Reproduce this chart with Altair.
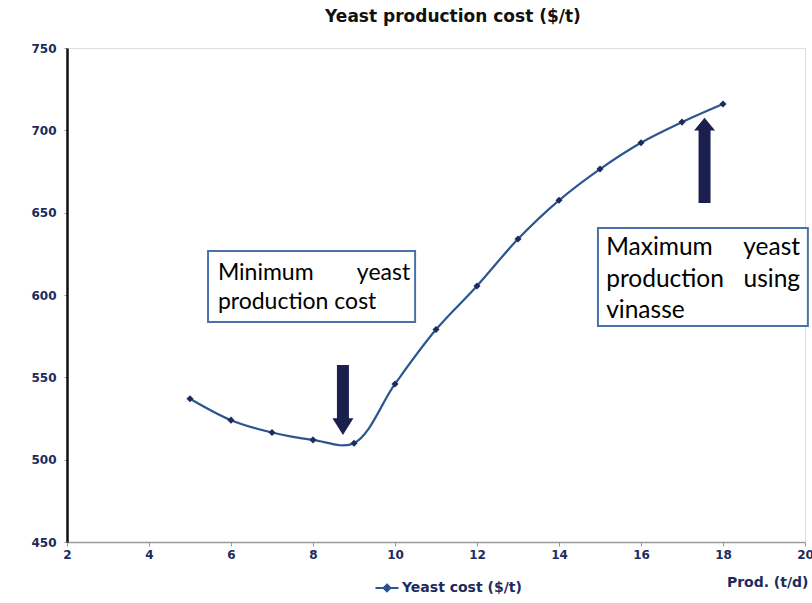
import altair as alt
import pandas as pd

# ---- data ----
prod = [5, 6, 7, 8, 9, 10, 11, 12, 13, 14, 15, 16, 17, 18]
cost = [537, 524, 516.5, 512, 510, 546, 579, 605.5, 634, 657.5, 676.5, 692.5, 705, 716]
series_name = "Yeast cost ($/t)"

# annotation boxes (data units)
box_x = [5.44, 14.95]
box_x2 = [10.49, 20.07]
box_y = [626.7, 640.7]
box_y2 = [583.6, 581.2]

# annotation words (data units)
word_text = ["Minimum", "yeast", "production cost", "Maximum", "yeast", "production", "using", "vinasse"]
word_x = [5.68, 10.37, 5.68, 15.15, 19.88, 15.15, 19.88, 15.15]
word_y = [613.4, 613.4, 595.8, 628.5, 628.5, 609.1, 609.1, 590.3]
word_align = ["left", "right", "left", "left", "right", "left", "right", "left"]
word_box = [1, 1, 1, 2, 2, 2, 2, 2]

# arrows (data units)
arrow_x = [8.73, 17.55]
shaft_y = [557.5, 655.9]
shaft_y2 = [524.7, 700.2]
head_y = [520.1, 703.8]

df = pd.DataFrame({"prod": prod, "cost": cost, "series": series_name})
boxes = pd.DataFrame({"x": box_x, "x2": box_x2, "y": box_y, "y2": box_y2})
words = pd.DataFrame({"t": word_text, "x": word_x, "y": word_y, "a": word_align, "b": word_box})
arrows = pd.DataFrame({"x": arrow_x, "y": shaft_y, "y2": shaft_y2, "hy": head_y})

LABEL_FONT = "DejaVu Sans"
NAVY = "#1c2b5e"
LINE = "#2b5690"

xs = alt.Scale(domain=[2, 20], nice=False, zero=False)
ys = alt.Scale(domain=[450, 750], nice=False, zero=False)

x_axis = alt.Axis(values=[2, 4, 6, 8, 10, 12, 14, 16, 18, 20], grid=False,
                  domainColor="#9a9a9a", domainWidth=1.5, tickColor="#9a9a9a", tickSize=4,
                  labelFont=LABEL_FONT, labelFontWeight="bold", labelFontSize=12, labelColor=NAVY,
                  labelPadding=3, title="Prod. (t/d)", titleFont=LABEL_FONT, titleFontSize=14,
                  titleFontWeight="bold", titleColor=NAVY, titleX=741, titleY=40,
                  titleAlign="right", titleBaseline="middle", labelFlush=False)
y_axis = alt.Axis(values=[450, 500, 550, 600, 650, 700, 750], grid=False,
                  domainColor="#111111", domainWidth=2.5, tickColor="#9a9a9a", tickSize=3,
                  labelFont=LABEL_FONT, labelFontWeight="bold", labelFontSize=12, labelColor=NAVY,
                  labelPadding=8, title=None, labelFlush=False)

line = alt.Chart(df).mark_line(interpolate="catmull-rom", strokeWidth=2.2).encode(
    x=alt.X("prod:Q", scale=xs, axis=x_axis),
    y=alt.Y("cost:Q", scale=ys, axis=y_axis),
    color=alt.Color("series:N", scale=alt.Scale(range=[LINE]),
                    legend=alt.Legend(title=None, orient="none", legendX=307, legendY=527,
                                      symbolType="M-1,0L1,0M0,-0.3L0.3,0L0,0.3L-0.3,0Z",
                                      symbolSize=530, symbolStrokeWidth=2,
                                      symbolFillColor=NAVY, symbolStrokeColor=NAVY,
                                      labelFont=LABEL_FONT, labelFontWeight="bold",
                                      labelFontSize=14, labelColor=NAVY, labelOffset=2)),
)
pts = alt.Chart(df).mark_point(shape="diamond", filled=True, size=50, color=NAVY, opacity=1).encode(
    x=alt.X("prod:Q", scale=xs), y=alt.Y("cost:Q", scale=ys)
)

rects = alt.Chart(boxes).mark_rect(fill="white", stroke="#4a72a8", strokeWidth=2).encode(
    x=alt.X("x:Q", scale=xs), x2="x2:Q", y=alt.Y("y:Q", scale=ys), y2="y2:Q"
)

def words_layer(align, box, size):
    sub = words[(words.a == align) & (words.b == box)]
    return alt.Chart(sub).mark_text(
        align=align, baseline="middle", font="Lato", fontSize=size, color="#000000"
    ).encode(x=alt.X("x:Q", scale=xs), y=alt.Y("y:Q", scale=ys), text="t:N")

texts = [words_layer("left", 1, 23), words_layer("right", 1, 23),
         words_layer("left", 2, 24.5), words_layer("right", 2, 24.5)]

shafts = alt.Chart(arrows).mark_rule(strokeWidth=12, color="#1a1f4e", strokeCap="butt").encode(
    x=alt.X("x:Q", scale=xs), y=alt.Y("y:Q", scale=ys), y2="y2:Q"
)
head_down = alt.Chart(arrows.iloc[[0]]).mark_point(
    shape="M-1,-0.8L1,-0.8L0,0.8Z", filled=True, size=441, color="#1a1f4e", opacity=1
).encode(x=alt.X("x:Q", scale=xs), y=alt.Y("hy:Q", scale=ys))
head_up = alt.Chart(arrows.iloc[[1]]).mark_point(
    shape="M-1,0.6L1,0.6L0,-0.6Z", filled=True, size=441, color="#1a1f4e", opacity=1
).encode(x=alt.X("x:Q", scale=xs), y=alt.Y("hy:Q", scale=ys))

chart = alt.layer(line, pts, rects, *texts, shafts, head_down, head_up).properties(
    width=738, height=494,
    autosize=alt.AutoSizeParams(type="none"),
    padding={"left": 67, "top": 48, "right": 7, "bottom": 61},
    title=alt.TitleParams("Yeast production cost ($/t)", font=LABEL_FONT, fontSize=17,
                          fontWeight="bold", color="#111111", anchor="middle", offset=16, dx=17),
).configure_view(stroke=None).configure(background="white")

chart.save("out.html", embed_options={"renderer": "svg", "actions": False})
